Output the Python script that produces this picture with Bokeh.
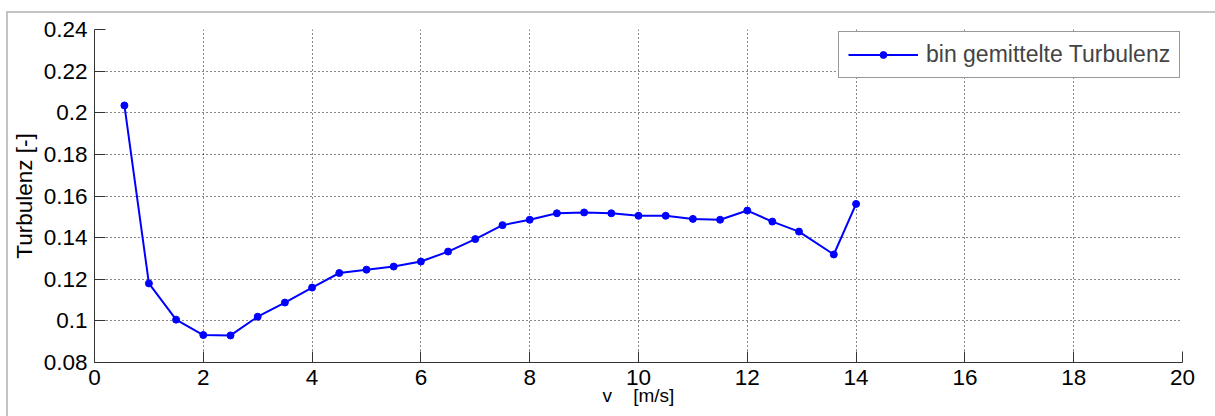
from bokeh.plotting import figure
from bokeh.models import FixedTicker, Range1d, Legend, LegendItem
from bokeh.embed import file_html
from bokeh.resources import INLINE

# ---- data ----
wind_speed = [0.55, 1.0, 1.5, 2.0, 2.5, 3.0, 3.5, 4.0, 4.5, 5.0, 5.5, 6.0, 6.5, 7.0,
              7.5, 8.0, 8.5, 9.0, 9.5, 10.0, 10.5, 11.0, 11.5, 12.0, 12.46, 12.95, 13.59, 14.0]
turbulence = [0.2035, 0.118, 0.1006, 0.0932, 0.0930, 0.1020, 0.1088, 0.1160, 0.1230, 0.1246,
              0.1261, 0.1285, 0.1333, 0.1393, 0.1460, 0.1486, 0.1517, 0.1521, 0.1517, 0.1505,
              0.1505, 0.1490, 0.1486, 0.1530, 0.1477, 0.1429, 0.1319, 0.1562]
x_ticks = [0, 2, 4, 6, 8, 10, 12, 14, 16, 18, 20]
y_ticks = [0.08, 0.1, 0.12, 0.14, 0.16, 0.18, 0.2, 0.22, 0.24]
y_tick_labels = ["0.08", "0.1", "0.12", "0.14", "0.16", "0.18", "0.2", "0.22", "0.24"]
series_name = "bin gemittelte Turbulenz"
x_label = "v\u00a0\u00a0\u00a0\u00a0[m/s]"
y_label = "Turbulenz [-]"

FONT = "Liberation Sans"
FS = "22.5px"

p = figure(frame_width=1088, frame_height=333, output_backend="svg", toolbar_location=None,
           x_range=Range1d(0, 20), y_range=Range1d(0.08, 0.24),
           min_border_left=86, min_border_right=33, min_border_top=16, min_border_bottom=54)
p.styles = {"border-left": "2px solid #c4c4c4", "border-top": "2px solid #c4c4c4",
            "margin-left": "6px", "margin-top": "11px"}
p.outline_line_color = None
p.background_fill_color = "white"
p.border_fill_color = "white"

line = p.line(wind_speed, turbulence, line_color="#0000ff", line_width=2)
pts = p.scatter(wind_speed, turbulence, marker="circle", size=7,
                fill_color="#0000ff", line_color="#0000ff")

for ax in (p.xaxis[0], p.yaxis[0]):
    ax.axis_line_color = "#333333"
    ax.major_tick_line_color = "#333333"
    ax.major_tick_in = 11
    ax.major_tick_out = 0
    ax.minor_tick_line_color = None
    ax.major_label_text_font = FONT
    ax.major_label_text_font_size = FS
    ax.major_label_text_color = "black"
    ax.axis_label_text_font = FONT
    ax.axis_label_text_font_size = FS
    ax.axis_label_text_font_style = "normal"
    ax.axis_label_text_color = "black"

p.xaxis.ticker = FixedTicker(ticks=x_ticks)
p.yaxis.ticker = FixedTicker(ticks=y_ticks)
p.yaxis.major_label_overrides = {t: s for t, s in zip(y_ticks, y_tick_labels)}
p.xaxis.major_label_standoff = 7
p.yaxis.major_label_standoff = 7
p.xaxis.axis_label = x_label
p.yaxis.axis_label = y_label
p.xaxis.axis_label_text_font_size = "19px"
p.xaxis.axis_label_standoff = -3
p.yaxis.axis_label_standoff = 4

p.xgrid[0].ticker = FixedTicker(ticks=x_ticks)
p.ygrid[0].ticker = FixedTicker(ticks=y_ticks)
for g in (p.xgrid[0], p.ygrid[0]):
    g.grid_line_color = "#111111"
    g.grid_line_dash = "1 3"
    g.grid_line_width = 1

legend = Legend(items=[LegendItem(label=series_name, renderers=[line, pts])],
                location=(744, 284), glyph_width=70, glyph_height=17,
                label_standoff=8, padding=9, spacing=0, margin=0,
                label_text_font=FONT, label_text_font_size="23px",
                border_line_color="#333333", border_line_width=1,
                background_fill_color="white", background_fill_alpha=1)
p.add_layout(legend)

open("out.html", "w").write(file_html(p, INLINE))
